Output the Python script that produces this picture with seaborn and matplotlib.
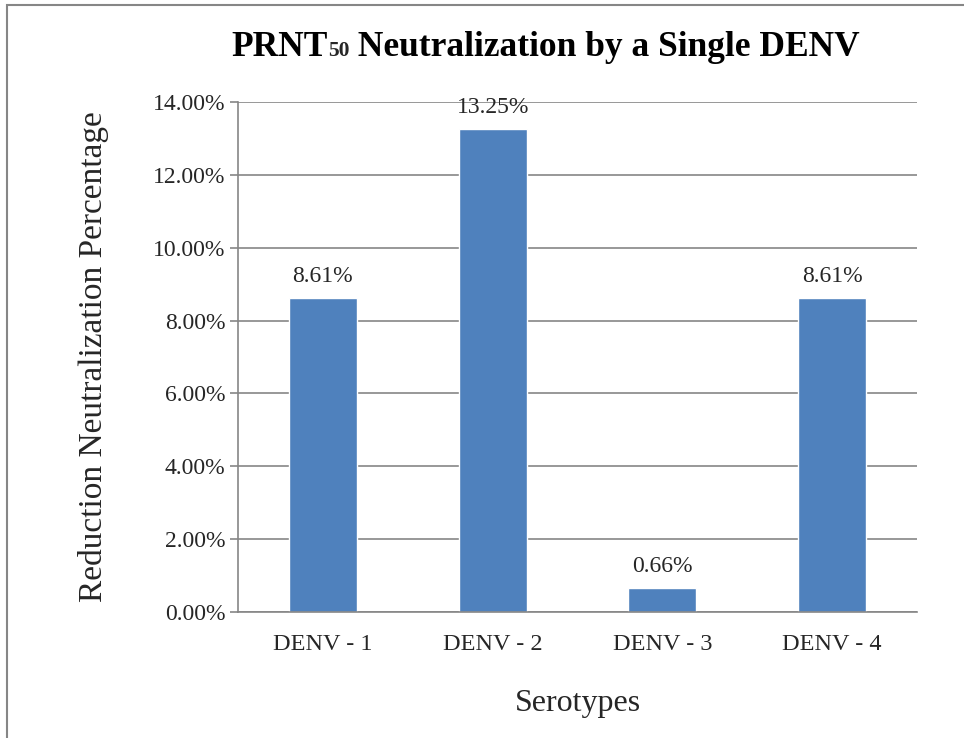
import matplotlib
matplotlib.use("Agg")
import matplotlib.pyplot as plt
import seaborn as sns
import pandas as pd
from matplotlib.ticker import PercentFormatter, MultipleLocator
from matplotlib.patches import Rectangle
from matplotlib.offsetbox import TextArea, HPacker, AnchoredOffsetbox

serotypes = ["DENV - 1", "DENV - 2", "DENV - 3", "DENV - 4"]
reduction_pct = [8.61, 13.25, 0.66, 8.61]

df = pd.DataFrame({"serotype": serotypes, "pct": reduction_pct})

sns.set_style("white")
plt.rcParams["font.family"] = ["Liberation Serif", "DejaVu Serif"]

fig = plt.figure(figsize=(9.64, 7.38), dpi=100)
ax = fig.add_axes([0.2469, 0.1707, 0.9512 - 0.2469, 0.8618 - 0.1707])

sns.barplot(data=df, x="serotype", y="pct", color="#4F81BD", width=0.4,
            saturation=1, ax=ax)

ax.set_ylim(0, 14)
ax.set_xlim(-0.5, 3.5)
ax.yaxis.set_major_locator(MultipleLocator(2))
ax.yaxis.set_major_formatter(PercentFormatter(xmax=100, decimals=2))
ax.grid(axis="y", color="#868686", linewidth=1.2)
ax.set_axisbelow(True)

for side in ["top", "right"]:
    ax.spines[side].set_visible(False)
for side in ["left", "bottom"]:
    ax.spines[side].set_color("#868686")
    ax.spines[side].set_linewidth(1.2)

ax.tick_params(axis="y", length=6, width=1.2, color="#868686", pad=3,
               labelsize=17, left=True)
ax.tick_params(axis="x", length=0, pad=15.5, labelsize=17.5)

for i, v in enumerate(reduction_pct):
    ax.annotate(f"{v:.2f}%", (i, v), xytext=(0, 8), textcoords="offset points",
                ha="center", va="bottom", fontsize=17)

ax.set_xlabel("Serotypes", fontsize=23, labelpad=25)
ax.set_ylabel("Reduction Neutralization Percentage", fontsize=24, labelpad=32)

# title with a small "50" after PRNT
bold = dict(fontsize=25.5, fontweight="bold", color="black")
title = HPacker(children=[TextArea("PRNT", textprops=bold),
                          TextArea("50", textprops=dict(fontsize=15.5, fontweight="bold")),
                          TextArea(" Neutralization by a Single DENV", textprops=bold)],
                align="baseline", pad=0, sep=0)
fig.add_artist(AnchoredOffsetbox(loc="center", child=title, pad=0, borderpad=0,
                                 frameon=False, bbox_to_anchor=(0.566, 1 - 48 / 738),
                                 bbox_transform=fig.transFigure))

fig.patches.append(Rectangle((7 / 964, -0.1), 1.2, 0.1 + 1 - 5 / 738,
                             transform=fig.transFigure, fill=False,
                             edgecolor="#868686", linewidth=1.5))

fig.savefig("out.png", dpi=100)
